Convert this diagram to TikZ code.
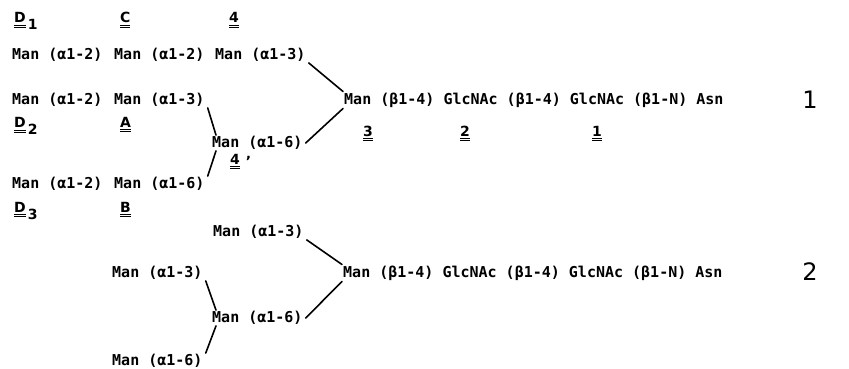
\documentclass[tikz,border=0pt]{standalone}
\usepackage{fontspec}
\setmainfont{DejaVu Sans}
\newfontfamily\resfont{DejaVu Sans Mono}
% bold label with double underline
\newcommand{\twoline}[1]{\setbox0\hbox{#1}\rlap{\rule[-2.8pt]{\wd0}{1.1pt}}\rlap{\rule[-5.4pt]{\wd0}{1.1pt}}\box0}

\begin{document}
\begin{tikzpicture}[x=1pt, y=-1pt,
    res/.style={anchor=west, inner sep=1pt, font=\resfont\bfseries\fontsize{15}{15}\selectfont},
    lab/.style={anchor=base west, inner sep=0pt, font=\bfseries\fontsize{14}{14}\selectfont},
    num/.style={inner sep=0pt, font=\fontsize{24}{24}\selectfont},
    bond/.style={line width=1.6pt, line cap=round},
]
  \useasboundingbox (0,0) rectangle (849,369);

  % === Structure 1 ===
  \node[res] (d1) at (11, 55) {Man (α1-2)};
  \node[res] (c) at (113, 55) {Man (α1-2)};
  \node[res] (n4) at (214, 55) {Man (α1-3)};
  \node[res] (d2) at (11, 100) {Man (α1-2)};
  \node[res] (a) at (113, 100) {Man (α1-3)};
  \node[res] (n4p) at (211, 143) {Man (α1-6)};
  \node[res] (d3) at (11, 184) {Man (α1-2)};
  \node[res] (b) at (113, 184) {Man (α1-6)};
  \node[res] (core) at (343, 100) {Man (β1-4) GlcNAc (β1-4) GlcNAc (β1-N) Asn};

  % labels
  \node[lab] (ld1) at (14, 23) {\twoline{D}\kern2pt\raisebox{-7pt}{1}};
  \node[lab] (lc) at (120, 23) {\twoline{C}};
  \node[lab] (l4) at (229, 23) {\twoline{4}};
  \node[lab] (ld2) at (14, 128) {\twoline{D}\kern2pt\raisebox{-6pt}{2}};
  \node[lab] (la) at (120, 127) {\twoline{A}};
  \node[lab] (l4p) at (230, 164) {\twoline{4}\kern6pt\raisebox{-2pt}{'}};
  \node[lab] (ld3) at (14, 212) {\twoline{D}\kern2pt\raisebox{-7pt}{3}};
  \node[lab] (lb) at (120, 212) {\twoline{B}};
  \node[lab] (l3) at (363, 136) {\twoline{3}};
  \node[lab] (l2) at (460, 136) {\twoline{2}};
  \node[lab] (l1) at (592, 136) {\twoline{1}};
  \node[num] (no1) at (810, 100) {1};

  \draw[bond] ([xshift=2pt]n4.south east) -- (core.north west);
  \draw[bond] ([xshift=2pt]n4p.east) -- (core.south west);
  \draw[bond] ([xshift=2pt]a.south east) -- ([xshift=5pt]n4p.north west);
  \draw[bond] ([xshift=5pt]n4p.south west) -- ([xshift=2pt]b.north east);

  % === Structure 2 ===
  \node[res] (t3) at (212, 232) {Man (α1-3)};
  \node[res] (s3) at (111, 273) {Man (α1-3)};
  \node[res] (t6) at (211, 318) {Man (α1-6)};
  \node[res] (s6) at (111, 361) {Man (α1-6)};
  \node[res] (core2) at (342, 273) {Man (β1-4) GlcNAc (β1-4) GlcNAc (β1-N) Asn};
  \node[num] (no2) at (810, 272) {2};

  \draw[bond] ([xshift=2pt]t3.south east) -- (core2.north west);
  \draw[bond] ([xshift=2pt]t6.east) -- (core2.south west);
  \draw[bond] ([xshift=2pt]s3.south east) -- ([xshift=5pt]t6.north west);
  \draw[bond] ([xshift=5pt]t6.south west) -- ([xshift=2pt]s6.north east);
\end{tikzpicture}
\end{document}
